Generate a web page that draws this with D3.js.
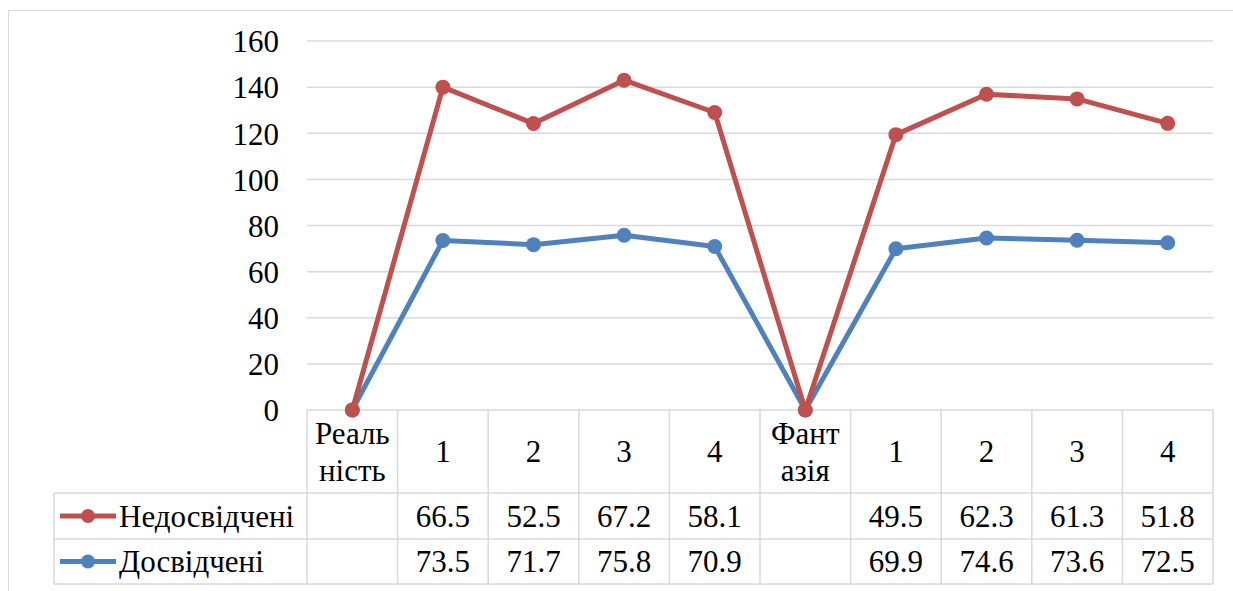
<!DOCTYPE html>
<html>
<head>
<meta charset="utf-8">
<script src="https://cdn.jsdelivr.net/npm/d3@7"></script>
<style>
  html, body { margin: 0; padding: 0; background: #fff; }
  svg { display: block; }
  svg text { font-family: "Times New Roman", "Liberation Serif", Tinos, "DejaVu Serif", serif !important; fill: #000; }
</style>
</head>
<body>
<svg id="chart" width="1233" height="591"></svg>
<script>
// Categories (multi-line labels split by "\n")
const categories = ["Реаль\nність", "1", "2", "3", "4", "Фант\nазія", "1", "2", "3", "4"];
// Series values (null = empty cell, plotted as 0 in the stack)
const inexperienced = [null, 66.5, 52.5, 67.2, 58.1, null, 49.5, 62.3, 61.3, 51.8];
const experienced   = [null, 73.5, 71.7, 75.8, 70.9, null, 69.9, 74.6, 73.6, 72.5];
const seriesNames = ["Недосвідчені", "Досвідчені"];
const yTicks = [0, 20, 40, 60, 80, 100, 120, 140, 160];

const RED = "#C0504D", BLUE = "#4F81BD", GRID = "#d9d9d9";
const FONT = '"Times New Roman", "Liberation Serif", Tinos, "DejaVu Serif", serif';
const svg = d3.select("#chart");

const plot = { left: 307, right: 1213, top: 41, bottom: 410 };
const table = { legendLeft: 54, headerBottom: 493, row1Bottom: 539, row2Bottom: 584 };

// Outer chart frame
svg.append("rect").attr("x", 8.5).attr("y", 10.5).attr("width", 1240).attr("height", 600)
  .attr("fill", "none").attr("stroke", GRID).attr("stroke-width", 1);

const x = d3.scaleBand().domain(d3.range(categories.length))
  .range([plot.left, plot.right]).paddingInner(0).paddingOuter(0);
const y = d3.scaleLinear().domain([0, 160]).range([plot.bottom, plot.top]);

// Horizontal gridlines
svg.append("g").selectAll("line").data(yTicks.filter(d => d > 0)).join("line")
  .attr("x1", plot.left).attr("x2", plot.right)
  .attr("y1", d => y(d)).attr("y2", d => y(d))
  .attr("stroke", GRID).attr("stroke-width", 1.5);

// Y axis labels
const yAxis = d3.axisLeft(y).tickValues(yTicks).tickSize(0).tickPadding(0);
const gy = svg.append("g").attr("transform", `translate(279,0)`).call(yAxis)
  .attr("font-family", FONT).attr("font-size", 31);
gy.select(".domain").remove();
gy.selectAll("text").attr("dy", "0.35em").attr("fill", "#000");

// Data table grid
const g = svg.append("g").attr("stroke", GRID).attr("stroke-width", 1.5).attr("fill", "none");
// top line (category axis)
g.append("line").attr("x1", plot.left).attr("x2", plot.right).attr("y1", plot.bottom).attr("y2", plot.bottom);
// row lines
[table.headerBottom, table.row1Bottom, table.row2Bottom].forEach(yy =>
  g.append("line").attr("x1", table.legendLeft).attr("x2", plot.right).attr("y1", yy).attr("y2", yy));
// vertical lines between categories
d3.range(categories.length + 1).forEach(i => {
  const xx = plot.left + i * x.bandwidth();
  g.append("line").attr("x1", xx).attr("x2", xx).attr("y1", plot.bottom).attr("y2", table.row2Bottom);
});
g.append("line").attr("x1", table.legendLeft).attr("x2", table.legendLeft)
  .attr("y1", table.headerBottom).attr("y2", table.row2Bottom);

// Category labels
const headerMid = (plot.bottom + table.headerBottom) / 2;
categories.forEach((c, i) => {
  const lines = c.split("\n");
  const cx = x(i) + x.bandwidth() / 2;
  const t = svg.append("text").attr("x", cx).attr("text-anchor", "middle")
    .attr("font-family", FONT).attr("font-size", 31);
  const lh = 37;
  lines.forEach((ln, k) => {
    t.append("tspan").attr("x", cx)
      .attr("y", headerMid + (k - (lines.length - 1) / 2) * lh)
      .attr("dy", "0.35em").text(ln);
  });
});

// Table values
const fmt = d3.format(".1f");
const rows = [
  { name: seriesNames[0], values: inexperienced, color: RED, top: table.headerBottom, bottom: table.row1Bottom },
  { name: seriesNames[1], values: experienced, color: BLUE, top: table.row1Bottom, bottom: table.row2Bottom }
];
rows.forEach(r => {
  const my = (r.top + r.bottom) / 2;
  r.values.forEach((v, i) => {
    if (v == null) return;
    svg.append("text").attr("x", x(i) + x.bandwidth() / 2).attr("y", my).attr("dy", "0.35em")
      .attr("text-anchor", "middle").attr("font-family", FONT).attr("font-size", 31).text(fmt(v));
  });
  // legend key
  svg.append("line").attr("x1", 60).attr("x2", 116).attr("y1", my).attr("y2", my)
    .attr("stroke", r.color).attr("stroke-width", 5);
  svg.append("circle").attr("cx", 88).attr("cy", my).attr("r", 7).attr("fill", r.color);
  svg.append("text").attr("x", 119).attr("y", my).attr("dy", "0.35em")
    .attr("font-family", FONT).attr("font-size", 31).text(r.name);
});

// Stacked lines: experienced at bottom, inexperienced stacked on top
const base = experienced.map(v => v ?? 0);
const stacked = inexperienced.map((v, i) => base[i] + (v ?? 0));
const line = d3.line().x((d, i) => x(i) + x.bandwidth() / 2).y(d => y(d));

[{ data: base, color: BLUE }, { data: stacked, color: RED }].forEach(s => {
  svg.append("path").datum(s.data).attr("d", line)
    .attr("fill", "none").attr("stroke", s.color).attr("stroke-width", 5)
    .attr("stroke-linejoin", "round");
  svg.append("g").selectAll("circle").data(s.data).join("circle")
    .attr("cx", (d, i) => x(i) + x.bandwidth() / 2).attr("cy", d => y(d))
    .attr("r", 7.5).attr("fill", s.color);
});
</script>
</body>
</html>
